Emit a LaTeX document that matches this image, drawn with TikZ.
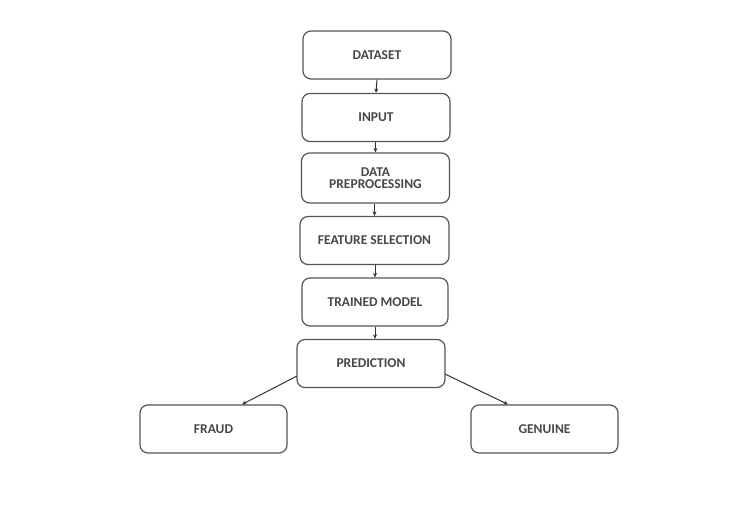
\documentclass[tikz,border=0pt]{standalone}
\usepackage{fontspec}
\setmainfont{Carlito}
\usetikzlibrary{arrows.meta}
\definecolor{edge}{HTML}{555555}
\definecolor{txt}{HTML}{474747}
\begin{document}
\begin{tikzpicture}[x=1pt,y=-1pt,
  box/.style={draw=edge, line width=1.2pt, rounded corners=8pt, minimum width=#1, minimum height=48pt, align=center, inner sep=0pt, text=txt, font=\fontsize{13.5}{12.5}\selectfont\bfseries},
  box/.default=148pt,
  conn/.style={draw=black!80, line width=1pt, -{Stealth[length=4.5pt,width=4pt]}}]
\useasboundingbox (0,0) rectangle (746,510);
\node[box] (dataset) at (377,55) {DATASET};
\node[box] (input) at (376,117.5) {INPUT};
\node[box, minimum height=50pt] (prep) at (375.5,178) {DATA\\PREPROCESSING};
\node[box=149pt] (feat) at (374.5,240.5) {FEATURE SELECTION};
\node[box=146pt] (model) at (375,302) {TRAINED MODEL};
\node[box] (pred) at (371,363.5) {PREDICTION};
\node[box=147pt] (fraud) at (213.5,429) {FRAUD};
\node[box=147pt] (gen) at (544.5,429) {GENUINE};
\draw[conn] (dataset.south) -- (input.north);
\draw[conn] (input.south -| prep.north) -- (prep.north);
\draw[conn] (prep.south -| feat.north) -- (feat.north);
\draw[conn] (feat.south -| model.north) -- (model.north);
\draw[conn] (model.south) -- (model.south |- pred.north);
\coordinate (fl) at (297,376);
\coordinate (gr) at (445,374);
\draw[conn] (fl) -- (fraud.north -| 242,0);
\draw[conn] (gr) -- (gen.north -| 508,0);
\end{tikzpicture}
\end{document}
